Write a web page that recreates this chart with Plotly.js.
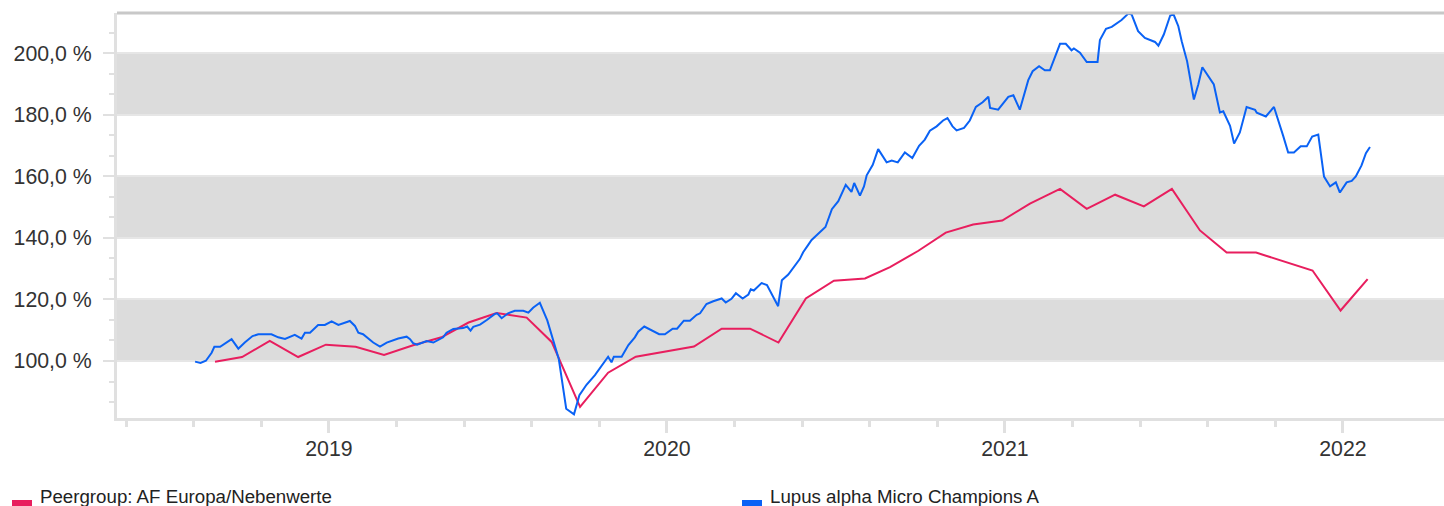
<!DOCTYPE html>
<html>
<head>
<meta charset="utf-8">
<script src="https://cdn.plot.ly/plotly-3.0.1.min.js"></script>
<style>
  html, body { margin: 0; padding: 0; background: #ffffff; }
  #chart { width: 1444px; height: 506px; }
</style>
</head>
<body>
<div id="chart"></div>
<script>
// ---- Data (x in decimal years as positioned on the chart) ----
const seriesNames = ["Peergroup: AF Europa/Nebenwerte", "Lupus alpha Micro Champions A"];

const peerX = [2018.663, 2018.743, 2018.825, 2018.909, 2018.991, 2019.079, 2019.163, 2019.249, 2019.333, 2019.413,
  2019.496, 2019.585, 2019.659, 2019.743, 2019.826, 2019.908, 2020.080, 2020.162, 2020.246, 2020.330,
  2020.411, 2020.494, 2020.586, 2020.660, 2020.744, 2020.825, 2020.906, 2020.992, 2021.074, 2021.163,
  2021.242, 2021.326, 2021.411, 2021.494, 2021.577, 2021.656, 2021.743, 2021.910, 2021.993, 2022.073];
const peerY = [99.8, 101.3, 106.5, 101.3, 105.3, 104.6, 102.0, 105.1, 107.7, 112.5,
  115.6, 114.1, 106.2, 85.1, 96.2, 101.4, 104.7, 110.5, 110.5, 106.0,
  120.3, 126.1, 126.8, 130.5, 135.8, 141.7, 144.3, 145.6, 151.1, 155.9,
  149.4, 154.0, 150.2, 155.9, 142.4, 135.2, 135.2, 129.4, 116.4, 126.6];

const fundX = [2018.604, 2018.620, 2018.636, 2018.653, 2018.661, 2018.678, 2018.712, 2018.732, 2018.751, 2018.774,
  2018.791, 2018.830, 2018.850, 2018.870, 2018.899, 2018.919, 2018.929, 2018.944, 2018.968, 2018.988,
  2019.008, 2019.028, 2019.062, 2019.077, 2019.087, 2019.101, 2019.131, 2019.151, 2019.171, 2019.205,
  2019.230, 2019.240, 2019.249, 2019.261, 2019.289, 2019.309, 2019.338, 2019.348, 2019.368, 2019.397,
  2019.409, 2019.419, 2019.427, 2019.447, 2019.467, 2019.491, 2019.498, 2019.511, 2019.530, 2019.550,
  2019.575, 2019.590, 2019.604, 2019.624, 2019.646, 2019.680, 2019.702, 2019.725, 2019.741, 2019.762,
  2019.787, 2019.807, 2019.826, 2019.836, 2019.843, 2019.866, 2019.886, 2019.905, 2019.915, 2019.933,
  2019.977, 2019.994, 2020.017, 2020.030, 2020.050, 2020.068, 2020.088, 2020.098, 2020.117, 2020.137,
  2020.162, 2020.174, 2020.191, 2020.204, 2020.224, 2020.241, 2020.248, 2020.257, 2020.280, 2020.296,
  2020.314, 2020.329, 2020.340, 2020.359, 2020.393, 2020.403, 2020.418, 2020.428, 2020.469, 2020.488,
  2020.507, 2020.529, 2020.546, 2020.554, 2020.571, 2020.583, 2020.591, 2020.609, 2020.625, 2020.650,
  2020.665, 2020.683, 2020.704, 2020.726, 2020.746, 2020.763, 2020.778, 2020.798, 2020.817, 2020.830,
  2020.845, 2020.857, 2020.879, 2020.896, 2020.914, 2020.934, 2020.951, 2020.956, 2020.980, 2021.010,
  2021.025, 2021.044, 2021.069, 2021.082, 2021.101, 2021.118, 2021.133, 2021.163, 2021.180, 2021.197,
  2021.204, 2021.222, 2021.242, 2021.274, 2021.281, 2021.299, 2021.316, 2021.345, 2021.365, 2021.375,
  2021.394, 2021.414, 2021.444, 2021.454, 2021.470, 2021.489, 2021.499, 2021.513, 2021.523, 2021.539,
  2021.559, 2021.572, 2021.584, 2021.592, 2021.601, 2021.618, 2021.636, 2021.646, 2021.666, 2021.678,
  2021.695, 2021.715, 2021.740, 2021.745, 2021.772, 2021.796, 2021.823, 2021.838, 2021.855, 2021.875,
  2021.893, 2021.909, 2021.927, 2021.944, 2021.962, 2021.979, 2021.991, 2022.011, 2022.026, 2022.038,
  2022.055, 2022.068, 2022.080];
const fundY = [99.8, 99.4, 100.1, 102.7, 104.6, 104.6, 107.1, 104.0, 106.0, 108.1,
  108.7, 108.7, 107.7, 107.2, 108.5, 107.3, 109.2, 109.2, 111.7, 111.7,
  112.9, 111.7, 113.0, 111.4, 109.2, 108.7, 106.0, 104.7, 106.0, 107.3,
  107.9, 107.1, 105.8, 105.3, 106.5, 106.0, 107.7, 109.2, 110.4, 110.7,
  111.2, 109.9, 111.1, 111.8, 113.3, 115.3, 115.5, 113.9, 115.5, 116.3,
  116.3, 115.7, 117.3, 118.9, 113.2, 100.7, 84.5, 82.7, 88.9, 92.3,
  95.4, 98.4, 101.4, 99.6, 101.4, 101.4, 105.2, 107.7, 109.5, 111.2,
  108.7, 108.7, 110.5, 110.5, 113.1, 113.1, 115.0, 115.5, 118.5, 119.4,
  120.3, 119.0, 120.2, 122.0, 120.3, 121.6, 123.3, 122.9, 125.3, 124.7,
  120.9, 117.8, 126.2, 128.1, 133.1, 135.3, 137.7, 139.3, 143.5, 149.3,
  151.9, 157.2, 154.9, 157.8, 153.7, 156.7, 160.3, 163.7, 168.8, 164.5,
  165.1, 164.5, 167.7, 165.9, 169.9, 171.9, 174.8, 176.2, 178.1, 178.9,
  176.2, 174.9, 175.7, 178.1, 182.5, 184.0, 185.8, 182.2, 181.6, 185.8,
  186.3, 181.6, 191.2, 194.1, 195.7, 194.4, 194.4, 203.0, 203.0, 200.9,
  201.5, 200.1, 197.1, 197.1, 204.2, 207.9, 208.5, 210.7, 212.8, 212.5,
  207.1, 204.9, 203.6, 202.4, 206.0, 212.2, 212.5, 208.7, 203.8, 197.3,
  184.9, 189.8, 195.4, 194.1, 193.0, 189.8, 180.7, 181.1, 176.4, 170.6,
  174.2, 182.5, 181.6, 180.6, 179.4, 182.5, 173.2, 167.7, 167.7, 169.7,
  169.7, 172.9, 173.5, 159.9, 156.7, 158.0, 154.7, 158.0, 158.5, 159.9,
  163.5, 167.5, 169.5];

const yearTicks = [2019, 2020, 2021, 2022];
const yearLabels = ["2019", "2020", "2021", "2022"];
const yTicks = [100, 120, 140, 160, 180, 200];
const yLabels = ["100,0 %", "120,0 %", "140,0 %", "160,0 %", "180,0 %", "200,0 %"];

// ---- Styling ----
const peerColor = "#e81e5e";
const fundColor = "#0a62f5";
const axisGray = "#e0e0e0";
const bandGray = "#dcdcdc";

const minorX = [];
for (let v = 2018.4; v <= 2022.0001; v += 0.2) minorX.push(+v.toFixed(2));

const traces = [
  { x: peerX, y: peerY, type: "scatter", mode: "lines", name: seriesNames[0],
    line: { color: peerColor, width: 2 }, showlegend: false, hoverinfo: "skip" },
  { x: fundX, y: fundY, type: "scatter", mode: "lines", name: seriesNames[1],
    line: { color: fundColor, width: 2 }, showlegend: false, hoverinfo: "skip" }
];

const W = 1444, H = 506, ML = 117, MT = 13, MB = 88, MR = 0;
const PW = W - ML - MR, PH = H - MT - MB;
const px2paperX = p => (p - ML) / PW;
const px2paperY = p => (H - MB - p) / PH;

const shapes = [];
[[100, 120], [140, 160], [180, 200]].forEach(b => {
  shapes.push({ type: "rect", xref: "paper", yref: "y", x0: 0, x1: 1, y0: b[0], y1: b[1],
    fillcolor: bandGray, line: { width: 0 }, layer: "below" });
});
shapes.push({ type: "line", xref: "paper", yref: "paper", x0: 0, x1: 1, y0: 1, y1: 1,
  line: { color: "#c8c8c8", width: 3 } });
// legend symbols
shapes.push({ type: "rect", xref: "paper", yref: "paper",
  x0: px2paperX(12), x1: px2paperX(32), y0: px2paperY(506), y1: px2paperY(500),
  fillcolor: peerColor, line: { width: 0 } });
shapes.push({ type: "rect", xref: "paper", yref: "paper",
  x0: px2paperX(742), x1: px2paperX(762), y0: px2paperY(506), y1: px2paperY(500),
  fillcolor: fundColor, line: { width: 0 } });

const annotations = [
  { xref: "paper", yref: "paper", x: px2paperX(38), y: px2paperY(496), xanchor: "left", yanchor: "middle",
    text: seriesNames[0], showarrow: false, font: { size: 18.7, color: "#222" } },
  { xref: "paper", yref: "paper", x: px2paperX(768), y: px2paperY(496), xanchor: "left", yanchor: "middle",
    text: seriesNames[1], showarrow: false, font: { size: 18.7, color: "#222" } }
];

const layout = {
  width: W, height: H,
  margin: { l: ML, r: MR, t: MT, b: MB, pad: 0 },
  paper_bgcolor: "#ffffff", plot_bgcolor: "#ffffff",
  font: { family: "Liberation Sans, Arial, sans-serif", color: "#333333", size: 21.3 },
  showlegend: false,
  xaxis: {
    range: [2018.373, 2022.299], type: "linear",
    tickmode: "array", tickvals: yearTicks, ticktext: yearLabels,
    ticks: "outside", ticklen: 12, tickwidth: 3, tickcolor: axisGray,
    ticklabelstandoff: -3,
    showgrid: false, zeroline: false,
    showline: true, linecolor: axisGray, linewidth: 3,
    tickfont: { size: 21.3, color: "#333333" },
    minor: { tickmode: "array", tickvals: minorX, ticks: "outside", ticklen: 6, tickwidth: 3, tickcolor: axisGray, showgrid: false },
    fixedrange: true
  },
  yaxis: {
    range: [81.5, 213], type: "linear",
    tickmode: "array", tickvals: yTicks, ticktext: yLabels,
    ticks: "outside", ticklen: 11, tickwidth: 2, tickcolor: axisGray,
    ticklabelstandoff: 7,
    showgrid: true, gridcolor: "#e6e6e6", gridwidth: 2,
    zeroline: false,
    showline: true, linecolor: axisGray, linewidth: 3,
    tickfont: { size: 21.3, color: "#333333" },
    minor: { tick0: 100, dtick: 20 / 3, ticks: "outside", ticklen: 5, tickwidth: 2, tickcolor: axisGray, showgrid: false },
    fixedrange: true
  },
  shapes: shapes,
  annotations: annotations
};

Plotly.newPlot("chart", traces, layout, { displayModeBar: false, staticPlot: true });
</script>
</body>
</html>
